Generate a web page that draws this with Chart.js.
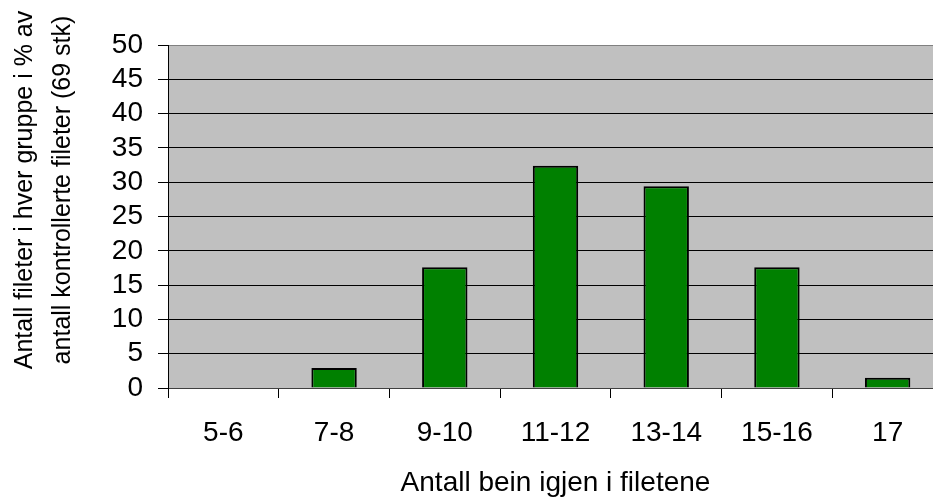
<!DOCTYPE html>
<html>
<head>
<meta charset="utf-8">
<script src="https://cdn.jsdelivr.net/npm/chart.js@4"></script>
<style>
  html, body { margin: 0; padding: 0; background: #fff; overflow: hidden; }
  canvas { display: block; }
</style>
</head>
<body>
<canvas id="chart" width="945" height="497"></canvas>
<script>
// Bone counts left in the fillets, grouped
const categories = ['5-6', '7-8', '9-10', '11-12', '13-14', '15-16', '17'];
// Share of inspected fillets in each group, in %
const shares = [0, 2.9, 17.6, 32.4, 29.4, 17.6, 1.5];
// Value axis
const yTicks = [0, 5, 10, 15, 20, 25, 30, 35, 40, 45, 50];
const yTitleLines = ['Antall fileter i hver gruppe i % av', 'antall kontrollerte fileter (69 stk)'];
const xTitle = 'Antall bein igjen i filetene';

const FONT = '"Liberation Sans", Arial, sans-serif';

// Grey plot background
const plotBackground = {
  id: 'plotBackground',
  beforeDraw(chart) {
    const { ctx, chartArea: a } = chart;
    ctx.save();
    ctx.fillStyle = '#C0C0C0';
    ctx.fillRect(a.left, a.top, a.right - a.left, a.bottom - a.top);
    ctx.restore();
  }
};

// Two-line rotated title for the value axis
const valueAxisTitle = {
  id: 'valueAxisTitle',
  afterDraw(chart) {
    const { ctx } = chart;
    ctx.save();
    ctx.fillStyle = '#000';
    ctx.font = '25px ' + FONT;
    ctx.textAlign = 'center';
    ctx.textBaseline = 'alphabetic';
    const baselines = [32, 70];
    const centreY = 190;
    yTitleLines.forEach((line, i) => {
      ctx.save();
      ctx.translate(baselines[i], centreY);
      ctx.rotate(-Math.PI / 2);
      ctx.fillText(line, 0, 0);
      ctx.restore();
    });
    ctx.restore();
  }
};

new Chart(document.getElementById('chart'), {
  type: 'bar',
  data: {
    labels: categories,
    datasets: [{
      data: shares,
      backgroundColor: '#008000',
      borderColor: '#000000',
      borderWidth: 2,
      categoryPercentage: 1.0,
      barPercentage: 0.41
    }]
  },
  options: {
    responsive: false,
    animation: false,
    devicePixelRatio: 1,
    layout: { padding: { top: 45, left: 0, right: 2, bottom: 0 } },
    plugins: {
      legend: { display: false },
      tooltip: { enabled: false }
    },
    scales: {
      x: {
        grid: {
          offset: true,
          drawOnChartArea: false,
          drawTicks: true,
          tickLength: 10,
          color: '#000',
          tickColor: '#000'
        },
        border: { display: true, color: '#404040', width: 1 },
        ticks: {
          color: '#000',
          font: { family: FONT, size: 28 },
          padding: 18,
          maxRotation: 0,
          autoSkip: false
        },
        title: {
          display: true,
          text: xTitle,
          color: '#000',
          font: { family: FONT, size: 28, lineHeight: 1.0 },
          padding: { top: 0, bottom: 0 }
        },
        afterFit(scale) { scale.height = 109; }
      },
      y: {
        min: 0,
        max: 50,
        afterBuildTicks(scale) { scale.ticks = yTicks.map(v => ({ value: v })); },
        grid: {
          drawTicks: true,
          tickLength: 10,
          lineWidth: 1,
          color(ctx) {
            if (ctx.tick && ctx.tick.value === 50) return '#808080';
            if (ctx.tick && ctx.tick.value === 0) return '#404040';
            return '#000';
          },
          tickColor: '#000'
        },
        border: { display: true, color: '#000', width: 1 },
        ticks: {
          stepSize: 5,
          autoSkip: false,
          color: '#000',
          font: { family: FONT, size: 28 },
          padding: 15
        },
        afterFit(scale) { scale.width = 168; }
      }
    }
  },
  plugins: [plotBackground, valueAxisTitle]
});
</script>
</body>
</html>
